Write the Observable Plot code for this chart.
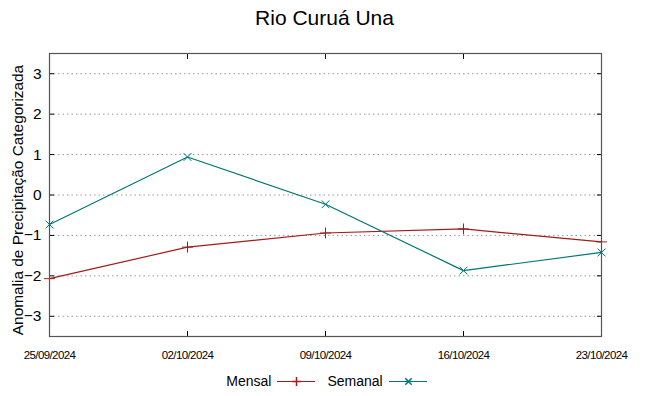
<!DOCTYPE html>
<html>
<head>
<meta charset="utf-8">
<script src="https://cdn.jsdelivr.net/npm/d3@7"></script>
<script src="https://cdn.jsdelivr.net/npm/@observablehq/plot@0.6"></script>
<style>
  body { margin: 0; background: #fff; font-family: "Liberation Sans", Arial, sans-serif; }
  #wrap { width: 649px; }
  #title { height: 36px; line-height: 36px; text-align: center; font-size: 21px; color: #000; }
  #legend { height: 30px; display: flex; justify-content: center; align-items: center; font-size: 14px; color: #000; padding-left: 4px; }
  #legend span { margin: 0 6px; }
  svg { display: block; }
</style>
</head>
<body>
<div id="wrap">
  <div id="title">Rio Curuá Una</div>
  <div id="chart"></div>
  <div id="legend"></div>
</div>
<script>
const dates = ["25/09/2024", "02/10/2024", "09/10/2024", "16/10/2024", "23/10/2024"];
const mensal = [-2.07, -1.29, -0.94, -0.84, -1.16];
const semanal = [-0.73, 0.94, -0.23, -1.87, -1.42];
const yTicks = [-3, -2, -1, 0, 1, 2, 3];
const seriesNames = ["Mensal", "Semanal"];
const seriesColors = ["#a01c1c", "#007575"];
const seriesSymbols = ["plus", "times"];
const yLabel = "Anomalia de Precipitação Categorizada";

const parse = d3.utcParse("%d/%m/%Y");
const fmt = d3.utcFormat("%d/%m/%Y");
const xDates = dates.map(parse);

const rows = [];
[mensal, semanal].forEach((vals, s) => {
  vals.forEach((v, i) => rows.push({date: xDates[i], value: v, series: seriesNames[s]}));
});

const chart = Plot.plot({
  width: 649,
  height: 330,
  marginLeft: 49,
  marginRight: 48,
  marginTop: 17,
  marginBottom: 30,
  style: {fontFamily: "Liberation Sans, Arial, sans-serif", color: "#000", background: "#fff"},
  x: {type: "utc", domain: [xDates[0], xDates[xDates.length - 1]]},
  y: {domain: [-3.5, 3.5]},
  color: {domain: seriesNames, range: seriesColors},
  symbol: {domain: seriesNames, range: seriesSymbols},
  marks: [
    Plot.gridY(yTicks, {stroke: "#999", strokeOpacity: 1, strokeDasharray: "1.5,3"}),
    Plot.axisY(yTicks, {anchor: "left", tickSize: 0, tickPadding: 8, fontSize: 15.5, label: null}),
    Plot.text([yLabel], {frameAnchor: "left", rotate: -90, dx: -31, dy: 5, fontSize: 15.4, textAnchor: "middle", lineAnchor: "middle", fill: "#000"}),
    Plot.axisY(yTicks, {anchor: "left", tickSize: -5, tickFormat: () => "", label: null, stroke: "#000"}),
    Plot.axisY(yTicks, {anchor: "right", tickSize: -5, tickFormat: () => "", label: null, stroke: "#000"}),
    Plot.axisX(xDates, {anchor: "bottom", tickSize: 0, tickPadding: 14, fontSize: 11.5, tickFormat: fmt, label: null}),
    Plot.axisX(xDates, {anchor: "bottom", tickSize: -5, tickFormat: () => "", label: null, stroke: "#000"}),
    Plot.axisX(xDates, {anchor: "top", tickSize: -5, tickFormat: () => "", label: null, stroke: "#000"}),
    Plot.line(rows, {x: "date", y: "value", z: "series", stroke: "series", strokeWidth: 1.2}),
    Plot.dot(rows, {x: "date", y: "value", stroke: "series", symbol: "series", r: 3.6, strokeWidth: 1}),
    Plot.frame({stroke: "#555", strokeWidth: 1.2})
  ]
});
// tighten the date labels so they read like the narrow originals
d3.select(chart).selectAll("text")
  .filter(function() { return dates.includes(this.textContent); })
  .style("letter-spacing", "-0.6px");
document.getElementById("chart").appendChild(chart);

// legend
const legend = document.getElementById("legend");
seriesNames.forEach((name, i) => {
  const label = document.createElement("span");
  label.textContent = name;
  legend.appendChild(label);
  const sw = Plot.plot({
    width: 38, height: 14, margin: 0,
    x: {domain: [0, 1], axis: null}, y: {domain: [0, 1], axis: null},
    marks: [
      Plot.ruleY([0.5], {stroke: seriesColors[i], strokeWidth: 1.2}),
      Plot.dot([[0.5, 0.5]], {stroke: seriesColors[i], symbol: seriesSymbols[i], r: 3})
    ]
  });
  sw.style.marginRight = "6px";
  legend.appendChild(sw);
});
</script>
</body>
</html>
